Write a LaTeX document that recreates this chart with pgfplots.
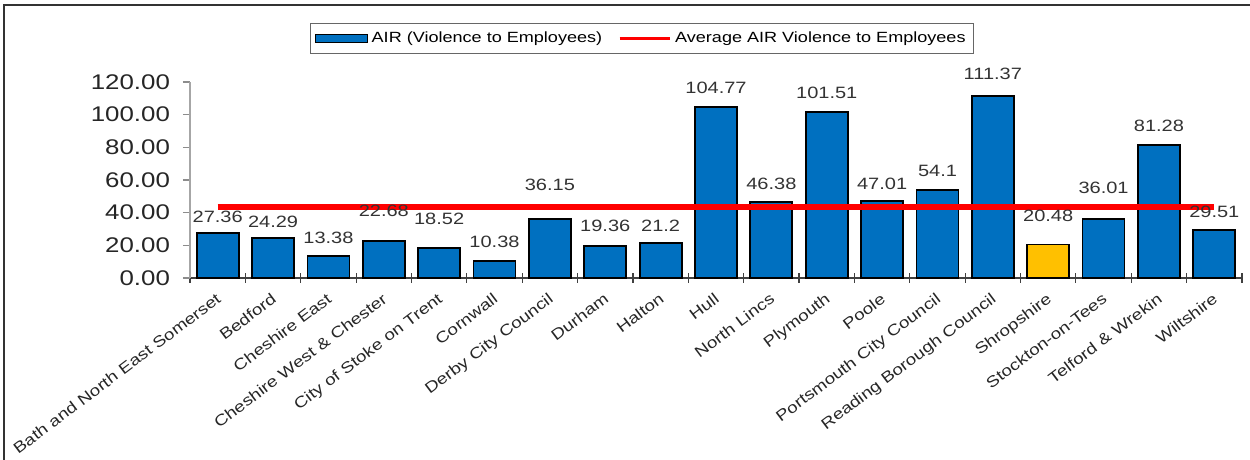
\documentclass[border=0pt]{standalone}
\usepackage{fontspec}
\setmainfont{Liberation Sans}[FakeStretch=1.22]
\usepackage{pgfplots}
\pgfplotsset{compat=1.18}
\definecolor{barblue}{HTML}{0070C0}
\definecolor{baryellow}{HTML}{FFC000}
\definecolor{avgred}{HTML}{FF0000}
\pgfplotsset{
  barlegend/.style={legend image code/.code={\draw[##1, line width=0.6pt] (0pt,-2pt) rectangle (26pt,2pt);}},
  linelegend/.style={legend image code/.code={\draw[##1, line width=1.5pt] (0pt,0pt) -- (25pt,0pt);}},
}

\begin{document}
\begin{tikzpicture}
\useasboundingbox (0,0) rectangle (625pt,230pt);
% outer chart frame (only top and left edges are visible)
\draw[black!80, line width=1pt] (2pt,0pt) -- (2pt,227.5pt) -- (625pt,227.5pt);

\begin{axis}[
  at={(95pt,91pt)}, anchor=south west,
  scale only axis,
  width=526pt, height=98pt,
  xmin=-0.5, xmax=18.5,
  ymin=0, ymax=120,
  clip=false,
  axis x line*=bottom,
  axis y line*=left,
  x axis line style={black!75, line width=0.7pt, -},
  y axis line style={black!35, line width=0.6pt, -},
  xtick={0,...,18},
  xticklabels={Bath and North East Somerset, Bedford, Cheshire East,
    Cheshire West \& Chester, City of Stoke on Trent, Cornwall,
    Derby City Council, Durham, Halton, Hull, North Lincs, Plymouth,
    Poole, Portsmouth City Council, Reading Borough Council, Shropshire,
    Stockton-on-Tees, Telford \& Wrekin, Wiltshire},
  major x tick style={draw=none},
  minor xtick={-0.5,0.5,...,18.5},
  minor x tick style={black!75, line width=0.6pt, yshift=2.3pt},
  minor tick length=4.6pt,
  ytick={0,20,...,120},
  y tick style={black!45, line width=0.6pt},
  major tick length=3.5pt,
  tick align=outside,
  /pgf/number format/assume math mode=true,
  y tick label style={/pgf/number format/fixed, /pgf/number format/fixed zerofill,
    /pgf/number format/precision=2,
    font=\fontsize{10.6}{12}\selectfont, text=black!85, xshift=-3pt},
  x tick label style={font=\fontsize{7.7}{9}\selectfont, text=black!85,
    rotate=37, anchor=north east, inner sep=1pt, yshift=-1pt, xshift=-2pt},
  legend style={
    at={(0.4297,1.222)}, anchor=center,
    legend columns=2,
    draw=black!60, line width=0.5pt,
    font=\fontsize{7.4}{9}\selectfont,
    inner sep=2pt,
    /tikz/every even column/.append style={column sep=6pt},
  },
  legend cell align=left,
]

\addplot[ybar, bar width=21pt, bar shift=0pt, fill=barblue, draw=black, line width=0.9pt, barlegend]
  coordinates {
    (0,27.36) (1,24.29) (2,13.38) (3,22.68) (4,18.52) (5,10.38) (6,36.15)
    (7,19.36) (8,21.2) (9,104.77) (10,46.38) (11,101.51) (12,47.01)
    (13,54.1) (14,111.37) (16,36.01) (17,81.28) (18,29.51)
  };
\addlegendentry{AIR (Violence to Employees)}

\addplot[ybar, bar width=21pt, bar shift=0pt, fill=baryellow, draw=black, line width=0.9pt, forget plot]
  coordinates {(15,20.48)};

\addplot[avgred, line width=3pt, mark=none, linelegend]
  coordinates {(0,43.46) (18,43.46)};
\addlegendentry{Average AIR Violence to Employees}

% data labels at the positions they take in the chart
\addplot[draw=none, mark=none, forget plot,
  nodes near coords, point meta=explicit symbolic,
  every node near coord/.style={anchor=center, inner sep=0pt,
    font=\fontsize{8.2}{10}\selectfont, text=black!80}]
  table[meta=lab] {
x y lab
0 37.4 27.36
1 34.3 24.29
2 24.5 13.38
3 41.1 22.68
4 36.2 18.52
5 22.1 10.38
6 57.0 36.15
7 31.9 19.36
8 31.9 21.2
9 116.4 104.77
10 57.6 46.38
11 113.4 101.51
12 57.6 47.01
13 65.6 54.1
14 125.0 111.37
15 38.0 20.48
16 55.1 36.01
17 93.1 81.28
18 40.4 29.51
};

\end{axis}
\end{tikzpicture}
\end{document}
